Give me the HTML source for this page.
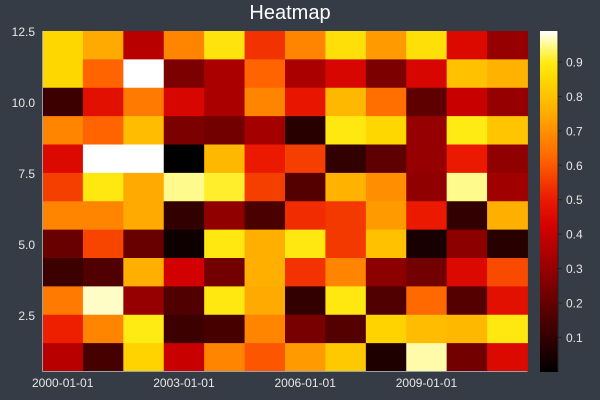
<!DOCTYPE html>
<html><head><meta charset="utf-8"><style>
html,body{margin:0;padding:0;background:#363c46;}
svg{display:block;font-family:"Liberation Sans","DejaVu Sans",sans-serif;}
</style></head><body>
<svg id="chart" width="600" height="400" viewBox="0 0 600 400">
<rect x="0" y="0" width="600" height="400" fill="#363c46"/>
<text x="290" y="19" fill="#ffffff" font-size="20" text-anchor="middle">Heatmap</text>
<g id="cells"></g>
<g id="axes"></g>
<g id="cbar"></g>
</svg>
<script>
const years = [2000,2001,2002,2003,2004,2005,2006,2007,2008,2009,2010,2011];
const rowsY = [12,11,10,9,8,7,6,5,4,3,2,1];
const values = [
[0.85,0.75,0.37,0.68,0.88,0.54,0.68,0.87,0.72,0.87,0.45,0.30],
[0.85,0.62,1.00,0.25,0.34,0.62,0.34,0.44,0.25,0.44,0.80,0.77],
[0.12,0.47,0.66,0.44,0.34,0.68,0.49,0.78,0.64,0.19,0.40,0.30],
[0.68,0.62,0.79,0.25,0.23,0.33,0.08,0.89,0.85,0.30,0.90,0.81],
[0.45,1.00,1.00,0.00,0.78,0.50,0.56,0.10,0.19,0.30,0.50,0.29],
[0.56,0.89,0.75,0.95,0.91,0.56,0.17,0.77,0.70,0.29,0.95,0.32],
[0.68,0.68,0.75,0.10,0.29,0.15,0.53,0.55,0.72,0.50,0.10,0.76],
[0.21,0.57,0.21,0.03,0.89,0.76,0.89,0.55,0.80,0.05,0.28,0.08],
[0.12,0.16,0.76,0.42,0.23,0.76,0.54,0.68,0.28,0.23,0.45,0.58],
[0.66,0.97,0.30,0.16,0.89,0.75,0.10,0.89,0.16,0.63,0.17,0.47],
[0.51,0.68,0.90,0.12,0.14,0.68,0.24,0.17,0.84,0.79,0.78,0.89],
[0.37,0.14,0.84,0.40,0.68,0.60,0.72,0.82,0.06,0.96,0.23,0.45]
];
const xTickYears = [2000,2003,2006,2009];
const xTickLabels = ["2000-01-01","2003-01-01","2006-01-01","2009-01-01"];
const yTicks = [2.5,5.0,7.5,10.0,12.5];
const cbarTicks = [0.1,0.2,0.3,0.4,0.5,0.6,0.7,0.8,0.9];

const NS="http://www.w3.org/2000/svg";
const L=42.5,R=527.5,T=31,B=371.5;
const xMin=years[0]-0.5,xMax=years[years.length-1]+0.5,yMin=0.5,yMax=12.5;
const xs=v=>L+(v-xMin)/(xMax-xMin)*(R-L);
const ys=v=>B-(v-yMin)/(yMax-yMin)*(B-T);
const cMin=0.001,cMax=0.99;
const stops=[[0,[0,0,0]],[0.1,[50,0,0]],[0.2,[100,0,0]],[0.3,[150,0,0]],[0.42,[210,0,0]],[0.5,[235,25,0]],[0.62,[255,100,0]],[0.75,[255,170,0]],[0.85,[255,215,0]],[0.9,[255,235,20]],[0.95,[255,250,140]],[0.99,[255,255,255]],[1,[255,255,255]]];
function cmap(v){
  let t=Math.max(0,Math.min(1,v));
  for(let i=1;i<stops.length;i++){
    if(t<=stops[i][0]){
      const a=stops[i-1],b=stops[i],f=(t-a[0])/(b[0]-a[0]);
      const c=a[1].map((x,k)=>Math.round(x+(b[1][k]-x)*f));
      return `rgb(${c[0]},${c[1]},${c[2]})`;
    }
  }
  return "rgb(255,255,255)";
}
function mk(tag,attrs,parent){const e=document.createElementNS(NS,tag);for(const k in attrs)e.setAttribute(k,attrs[k]);parent.appendChild(e);return e;}
const cells=document.getElementById('cells');
rowsY.forEach((ry,ri)=>{
  years.forEach((yr,ci)=>{
    const x0=xs(yr-0.5),x1=xs(yr+0.5),y0=ys(ry+0.5),y1=ys(ry-0.5);
    const r=mk('rect',{x:x0,y:y0,width:x1-x0+0.4,height:y1-y0+0.4,fill:cmap(values[ri][ci])},cells);
    
    
  });
});
const axes=document.getElementById('axes');
const ya=mk('line',{x1:L,y1:T,x2:L,y2:B,stroke:'#9aa0a8','stroke-width':1},axes);


const xa=mk('line',{x1:L,y1:B,x2:R,y2:B,stroke:'#9aa0a8','stroke-width':1},axes);


yTicks.forEach(v=>{
  const t=mk('text',{x:35,y:ys(v)+5,fill:'#e6e6e6','font-size':12,'text-anchor':'end'},axes);
  t.textContent=v.toFixed(1);
  
  
});
xTickYears.forEach((v,i)=>{
  const t=mk('text',{x:xs(v),y:387,fill:'#e6e6e6','font-size':12,'text-anchor':'middle'},axes);
  t.textContent=xTickLabels[i];
  
  
});
const cb=document.getElementById('cbar');
const CL=540,CR=558;
const cys=v=>B-(v-cMin)/(cMax-cMin)*(B-T);
for(let i=0;i<170;i++){
  const v0=cMin+(cMax-cMin)*i/170,v1=cMin+(cMax-cMin)*(i+1)/170;
  const r=mk('rect',{x:CL,y:cys(v1),width:CR-CL,height:cys(v0)-cys(v1)+0.5,fill:cmap((v0+v1)/2)},cb);
  
  
}
const cl=mk('line',{x1:CR,y1:T,x2:CR,y2:B,stroke:'#222','stroke-width':1},cb);


cbarTicks.forEach(v=>{
  const tk=mk('line',{x1:CR,y1:cys(v),x2:CR+4,y2:cys(v),stroke:'#222','stroke-width':1},cb);
  
  
  const t=mk('text',{x:566,y:cys(v)+4.5,fill:'#e6e6e6','font-size':12},cb);
  t.textContent=v.toFixed(1);
  
  
});
</script>
</body></html>
